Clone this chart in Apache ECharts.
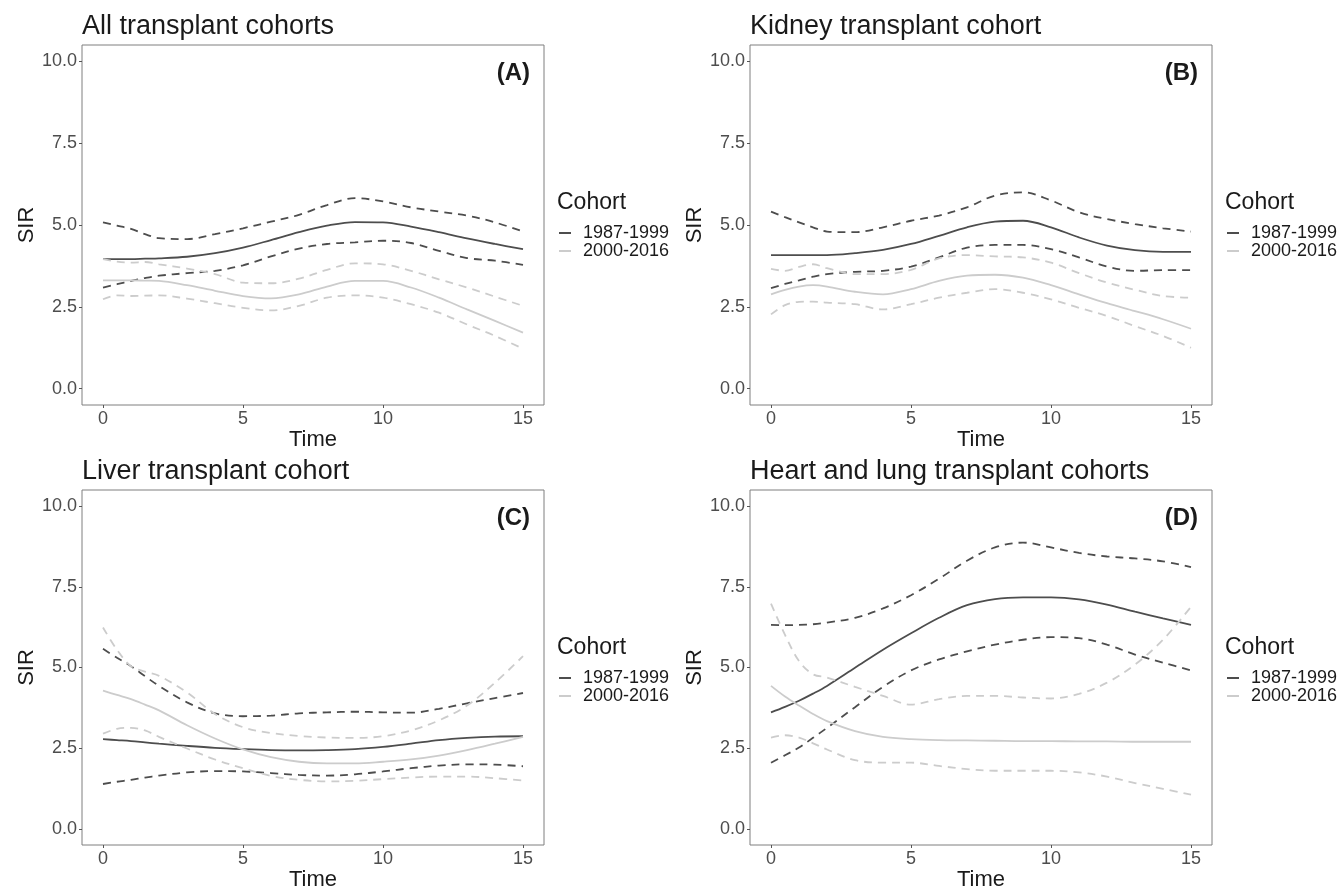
<!DOCTYPE html>
<html>
<head>
<meta charset="utf-8">
<script src="https://cdn.jsdelivr.net/npm/echarts@6/dist/echarts.min.js"></script>
<style>
html,body{margin:0;padding:0;background:#fff;}
#chart{width:1341px;height:892px;}
</style>
</head>
<body>
<div id="chart"></div>
<script>
// ---- Data ----
const times = [0, 0.5, 1, 1.5, 2, 3, 4, 5, 6, 7, 8, 9, 10, 11, 12, 13, 14, 15];
const xTicks = [0, 5, 10, 15];
const yTicks = [0, 2.5, 5, 7.5, 10];
const cohorts = ['1987-1999', '2000-2016'];
const panelTitles = ['All transplant cohorts', 'Kidney transplant cohort', 'Liver transplant cohort', 'Heart and lung transplant cohorts'];
const panelTags = ['(A)', '(B)', '(C)', '(D)'];

// Panel A: All transplant cohorts
const A_early = [3.96,3.96,3.96,3.97,3.98,4.03,4.14,4.31,4.54,4.78,4.98,5.09,5.08,4.95,4.78,4.59,4.42,4.26];
const A_early_hi = [5.08,4.98,4.88,4.72,4.60,4.57,4.72,4.90,5.10,5.31,5.61,5.82,5.72,5.54,5.41,5.29,5.08,4.80];
const A_early_lo = [3.09,3.19,3.29,3.38,3.45,3.53,3.60,3.77,4.04,4.28,4.42,4.47,4.52,4.45,4.21,3.99,3.91,3.78];
const A_late = [3.31,3.31,3.31,3.30,3.29,3.16,2.99,2.83,2.76,2.88,3.12,3.29,3.29,3.09,2.78,2.42,2.07,1.71];
const A_late_hi = [3.96,3.88,3.85,3.87,3.80,3.67,3.50,3.24,3.22,3.36,3.63,3.83,3.80,3.60,3.34,3.09,2.81,2.53];
const A_late_lo = [2.73,2.85,2.83,2.84,2.85,2.75,2.61,2.47,2.39,2.53,2.78,2.85,2.78,2.58,2.32,1.96,1.61,1.22];

// Panel B: Kidney transplant cohort
const B_early = [4.08,4.08,4.08,4.08,4.08,4.14,4.24,4.42,4.67,4.93,5.10,5.13,4.93,4.62,4.37,4.23,4.18,4.18];
const B_early_hi = [5.41,5.24,5.08,4.93,4.80,4.78,4.93,5.13,5.29,5.54,5.90,6.00,5.75,5.39,5.18,5.03,4.90,4.80];
const B_early_lo = [3.07,3.20,3.31,3.42,3.50,3.57,3.60,3.73,4.01,4.31,4.39,4.39,4.26,4.01,3.73,3.60,3.62,3.62];
const B_late = [2.88,3.02,3.12,3.16,3.12,2.96,2.88,3.04,3.29,3.45,3.48,3.39,3.16,2.88,2.61,2.37,2.12,1.83];
const B_late_hi = [3.66,3.60,3.72,3.80,3.68,3.50,3.50,3.63,3.98,4.08,4.04,4.01,3.85,3.53,3.24,3.02,2.83,2.78];
const B_late_lo = [2.27,2.55,2.65,2.66,2.63,2.58,2.42,2.58,2.78,2.93,3.04,2.93,2.73,2.47,2.22,1.91,1.61,1.25];

// Panel C: Liver transplant cohort
const C_early = [2.78,2.75,2.72,2.68,2.64,2.57,2.51,2.47,2.44,2.43,2.44,2.47,2.54,2.64,2.75,2.82,2.86,2.87];
const C_early_hi = [5.58,5.30,5.04,4.73,4.43,3.92,3.58,3.49,3.51,3.58,3.61,3.63,3.61,3.60,3.72,3.89,4.05,4.21];
const C_early_lo = [1.39,1.46,1.52,1.59,1.65,1.75,1.79,1.78,1.73,1.67,1.65,1.69,1.78,1.88,1.96,2.00,1.99,1.94];
const C_late = [4.28,4.15,4.02,3.85,3.67,3.21,2.80,2.46,2.22,2.08,2.03,2.03,2.08,2.15,2.27,2.44,2.64,2.85];
const C_late_hi = [6.24,5.55,5.04,4.87,4.74,4.23,3.56,3.15,2.97,2.88,2.83,2.82,2.87,3.05,3.36,3.82,4.53,5.35];
const C_late_lo = [2.95,3.10,3.13,3.05,2.85,2.49,2.15,1.88,1.64,1.52,1.47,1.49,1.54,1.59,1.62,1.62,1.57,1.50];

// Panel D: Heart and lung transplant cohorts
const D_early = [3.61,3.78,3.97,4.19,4.43,4.99,5.55,6.06,6.54,6.93,7.12,7.17,7.17,7.11,6.95,6.73,6.52,6.32];
const D_early_hi = [6.32,6.31,6.32,6.34,6.39,6.54,6.83,7.24,7.75,8.31,8.72,8.87,8.72,8.55,8.44,8.38,8.29,8.11];
const D_early_lo = [2.05,2.28,2.52,2.82,3.13,3.77,4.40,4.91,5.25,5.50,5.71,5.86,5.94,5.91,5.71,5.40,5.15,4.91];
const D_late = [4.43,4.10,3.82,3.56,3.34,3.03,2.85,2.78,2.75,2.74,2.73,2.72,2.72,2.71,2.71,2.70,2.70,2.70];
const D_late_hi = [6.98,6.01,5.20,4.79,4.69,4.40,4.12,3.85,4.02,4.12,4.12,4.07,4.04,4.18,4.53,5.09,5.86,6.88];
const D_late_lo = [2.83,2.90,2.83,2.65,2.46,2.13,2.05,2.05,1.95,1.85,1.80,1.80,1.80,1.75,1.62,1.42,1.24,1.06];

const panels = [
  [A_early, A_early_hi, A_early_lo, A_late, A_late_hi, A_late_lo],
  [B_early, B_early_hi, B_early_lo, B_late, B_late_hi, B_late_lo],
  [C_early, C_early_hi, C_early_lo, C_late, C_late_hi, C_late_lo],
  [D_early, D_early_hi, D_early_lo, D_late, D_late_hi, D_late_lo]
];

// ---- Styling / layout ----
const FONT = 'Liberation Sans, Arial, Helvetica, sans-serif';
const DARK = '#4d4d4d';
const LIGHT = '#cccccc';
const TEXT = '#1a1a1a';
const layout = [
  {left: 82, top: 45},
  {left: 750, top: 45},
  {left: 82, top: 490},
  {left: 750, top: 490}
];
const W = 462, H = 360;

const grids = [], xAxes = [], yAxes = [], series = [], titles = [], legends = [], graphics = [];

layout.forEach((g, p) => {
  grids.push({left: g.left, top: g.top, width: W, height: H, show: true, borderColor: '#7f7f7f', borderWidth: 1, backgroundColor: '#fff'});
  xAxes.push({
    type: 'value', gridIndex: p, min: -0.75, max: 15.75, position: 'bottom',
    name: 'Time', nameLocation: 'middle', nameGap: 24,
    nameTextStyle: {fontSize: 22, color: TEXT, fontFamily: FONT},
    axisLine: {show: false, onZero: false},
    axisTick: {show: true, customValues: xTicks, length: 3, lineStyle: {color: '#555555'}},
    axisLabel: {customValues: xTicks, fontSize: 18, color: DARK, fontFamily: FONT, margin: 5},
    splitLine: {show: false}
  });
  yAxes.push({
    type: 'value', gridIndex: p, min: -0.5, max: 10.5, position: 'left',
    name: 'SIR', nameLocation: 'middle', nameGap: 44,
    nameTextStyle: {fontSize: 22, color: TEXT, fontFamily: FONT},
    axisLine: {show: false, onZero: false},
    axisTick: {show: true, customValues: yTicks, length: 3, lineStyle: {color: '#555555'}},
    axisLabel: {customValues: yTicks, fontSize: 18, color: DARK, fontFamily: FONT, margin: 5,
      formatter: v => Number(v).toFixed(1)},
    splitLine: {show: false}
  });
  const arrs = panels[p];
  const defs = [
    {name: cohorts[0], color: DARK, dash: 'solid', d: arrs[0]},
    {name: cohorts[0], color: DARK, dash: [8, 6], d: arrs[1]},
    {name: cohorts[0], color: DARK, dash: [8, 6], d: arrs[2]},
    {name: cohorts[1], color: LIGHT, dash: 'solid', d: arrs[3]},
    {name: cohorts[1], color: LIGHT, dash: [8, 6], d: arrs[4]},
    {name: cohorts[1], color: LIGHT, dash: [8, 6], d: arrs[5]}
  ];
  defs.forEach(s => {
    series.push({
      type: 'line', name: s.name, xAxisIndex: p, yAxisIndex: p,
      data: times.map((t, i) => [t, s.d[i]]),
      smooth: 0.35, symbol: 'none', showSymbol: false,
      lineStyle: {color: s.color, width: 1.8, type: s.dash},
      itemStyle: {color: s.color},
      silent: true, animation: false
    });
  });
  titles.push({
    text: panelTitles[p], left: g.left, top: g.top - 32, padding: 0,
    textStyle: {fontSize: 27, fontWeight: 'normal', color: TEXT, fontFamily: FONT}
  });
  titles.push({
    text: 'Cohort', left: g.left + W + 13, top: g.top + 146, padding: 0,
    textStyle: {fontSize: 23, fontWeight: 'normal', color: TEXT, fontFamily: FONT}
  });
  legends.push({
    orient: 'vertical', left: g.left + W + 15, top: g.top + 179, padding: 0,
    itemWidth: 12, itemHeight: 2, itemGap: 0,
    data: [
      {name: cohorts[0], icon: 'rect', itemStyle: {color: DARK}},
      {name: cohorts[1], icon: 'rect', itemStyle: {color: LIGHT}}
    ],
    textStyle: {fontSize: 18, color: TEXT, fontFamily: FONT, lineHeight: 18, padding: [0, 0, 0, 7]}
  });
  graphics.push({
    type: 'text', x: g.left + W - 14, y: g.top + 28,
    style: {text: panelTags[p], font: 'bold 24px ' + FONT, fill: TEXT, textAlign: 'right', textVerticalAlign: 'middle'}
  });
});

const chart = echarts.init(document.getElementById('chart'), null, {renderer: 'canvas'});
chart.setOption({
  animation: false,
  backgroundColor: '#fff',
  title: titles,
  legend: legends,
  grid: grids,
  xAxis: xAxes,
  yAxis: yAxes,
  series: series,
  graphic: graphics
});
</script>
</body>
</html>
